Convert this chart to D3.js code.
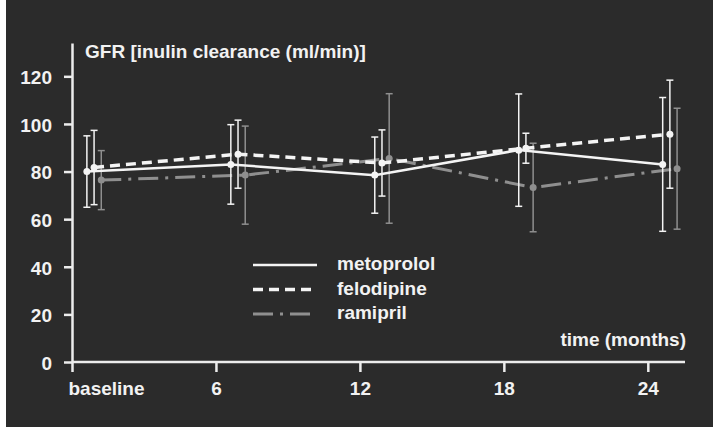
<!DOCTYPE html>
<html>
<head>
<meta charset="utf-8">
<script src="https://cdn.jsdelivr.net/npm/d3@7"></script>
<style>
  body { margin: 0; background: #fff; }
  text { font-family: "Liberation Sans", Arial, sans-serif; font-weight: bold; fill: #f2f2f2; }
</style>
</head>
<body>
<div class="canvas"></div>
<script>
// data (mean and SD per visit)
const months = [0, 6, 12, 18, 24];
const tickLabels = ['baseline', '6', '12', '18', '24'];
const metoprololMean = [80, 83, 78.5, 89, 83];
const metoprololSd = [15, 16.7, 16, 23.6, 28.1];
const felodipineMean = [81.7, 87.3, 83.6, 89.8, 95.7];
const felodipineSd = [15.6, 14.3, 13.9, 6.3, 22.7];
const ramiprilMean = [76.4, 78.5, 85.5, 73.3, 81.2];
const ramiprilSd = [12.4, 20.6, 27.2, 18.6, 25.4];
const yTicks = [0, 20, 40, 60, 80, 100, 120];

const width = 713, height = 427;

const svg = d3.select('.canvas')
    .append('svg')
        .attr('width', width)
        .attr('height', height);

// dark panel
svg.append('rect')
    .attr('x', 6)
    .attr('y', 0)
    .attr('width', width - 6)
    .attr('height', height)
    .attr('fill', '#2b2b2b');

const x = d3.scaleLinear()
    .domain([0, 25.55])
    .range([72, 685]);

const y = d3.scaleLinear()
    .domain([0, 134])
    .range([362, 43]);

//axes
const xAxis = d3.axisBottom(x)
    .tickValues(months)
    .tickFormat((d, i) => tickLabels[i])
    .tickSize(10)
    .tickSizeOuter(0)
    .tickPadding(10);

const yAxis = d3.axisLeft(y)
    .tickValues(yTicks)
    .tickSize(8)
    .tickSizeOuter(0)
    .tickPadding(12);

const xAxisGroup = svg.append('g')
    .attr('transform', `translate(0, ${y(0)})`)
    .call(xAxis);
const yAxisGroup = svg.append('g')
    .attr('transform', `translate(${x(0)}, 0)`)
    .call(yAxis);

[xAxisGroup, yAxisGroup].forEach(g => {
    g.attr('font-size', null).attr('font-family', null);
    g.selectAll('path, line').attr('stroke', '#ececec').attr('stroke-width', 2.5);
    g.selectAll('text').attr('fill', '#f2f2f2').style('font-size', '19px');
});
xAxisGroup.select('path').attr('d', `M${x(0)},0H${x.range()[1]}`);
xAxisGroup.selectAll('.tick text')
    .filter(d => d === 0)
    .attr('text-anchor', 'start')
    .attr('x', -4);
yAxisGroup.selectAll('.tick text').attr('dy', '0.38em');

svg.append('text')
    .attr('x', 85)
    .attr('y', 58)
    .style('font-size', '19px')
    .text('GFR [inulin clearance (ml/min)]');

svg.append('text')
    .attr('x', 686)
    .attr('y', 346)
    .attr('text-anchor', 'end')
    .style('font-size', '19px')
    .text('time (months)');

// series
const series = [
    {name: 'ramipril', mean: ramiprilMean, sd: ramiprilSd, offset: 1.22, color: '#8f8f8f', width: 3, dash: '20,7,3,7'},
    {name: 'metoprolol', mean: metoprololMean, sd: metoprololSd, offset: 0.62, color: '#f4f4f4', width: 2.5, dash: null},
    {name: 'felodipine', mean: felodipineMean, sd: felodipineSd, offset: 0.92, color: '#f4f4f4', width: 3.5, dash: '10,6'}
];

const line = d3.line()
    .x(d => x(d.t))
    .y(d => y(d.v));

series.forEach(s => {
    const pts = months.map((m, i) => ({t: m + s.offset, v: s.mean[i], sd: s.sd[i]}));
    const g = svg.append('g');

    g.selectAll('line.err')
        .data(pts)
        .enter()
        .append('line')
            .attr('class', 'err')
            .attr('x1', d => x(d.t))
            .attr('x2', d => x(d.t))
            .attr('y1', d => y(d.v + d.sd))
            .attr('y2', d => y(d.v - d.sd))
            .attr('stroke', s.color)
            .attr('stroke-width', 1.5);

    ['top', 'bottom'].forEach(side => {
        g.selectAll('line.' + side)
            .data(pts)
            .enter()
            .append('line')
                .attr('class', side)
                .attr('x1', d => x(d.t) - 3.5)
                .attr('x2', d => x(d.t) + 3.5)
                .attr('y1', d => y(side === 'top' ? d.v + d.sd : d.v - d.sd))
                .attr('y2', d => y(side === 'top' ? d.v + d.sd : d.v - d.sd))
                .attr('stroke', s.color)
                .attr('stroke-width', 1.5);
    });

    g.append('path')
        .datum(pts)
        .attr('d', line)
        .attr('fill', 'none')
        .attr('stroke', s.color)
        .attr('stroke-width', s.width)
        .attr('stroke-dasharray', s.dash);

    g.selectAll('circle')
        .data(pts)
        .enter()
        .append('circle')
            .attr('cx', d => x(d.t))
            .attr('cy', d => y(d.v))
            .attr('r', 3.5)
            .attr('fill', s.color);
});

// legend
const legendOrder = ['metoprolol', 'felodipine', 'ramipril'];
const legend = svg.append('g')
    .attr('transform', 'translate(253, 265)');

legendOrder.forEach((name, i) => {
    const s = series.find(d => d.name === name);
    legend.append('line')
        .attr('x1', 0)
        .attr('x2', 64)
        .attr('y1', i * 24.5)
        .attr('y2', i * 24.5)
        .attr('stroke', s.color)
        .attr('stroke-width', s.width)
        .attr('stroke-dasharray', s.dash);
    legend.append('text')
        .attr('x', 84)
        .attr('y', i * 24.5 + 5)
        .style('font-size', '19px')
        .text(name);
});
</script>
</body>
</html>
